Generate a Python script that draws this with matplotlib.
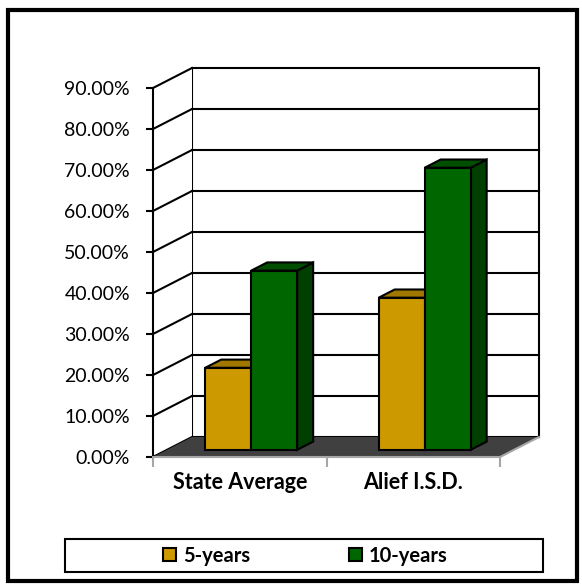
import matplotlib.pyplot as plt
from matplotlib.patches import Polygon, Rectangle, Patch

plt.rcParams['font.family'] = ['Lato', 'DejaVu Sans']

categories = ["State Average", "Alief I.S.D."]
series_names = ["5-years", "10-years"]
five_years = [0.200, 0.371]
ten_years = [0.437, 0.688]
yticks = [0.0, 0.1, 0.2, 0.3, 0.4, 0.5, 0.6, 0.7, 0.8, 0.9]

front_colors = ["#CC9900", "#006600"]
top_colors = ["#A07800", "#004F00"]
side_colors = ["#8A6700", "#003F00"]

W, H = 582, 585
fig = plt.figure(figsize=(W / 100, H / 100), dpi=100)
ax = fig.add_axes([153 / W, (H - 457) / H, 347 / W, 369 / H])
ax.set_xlim(0, 2)
ax.set_ylim(0, 0.9)
ax.patch.set_visible(False)

# depth of the fake 3d box, in pixels
px_x = 347 / 2
px_y = 369 / 0.9
DX, DY = 39, 20


def p(x, y, t):
    # point at depth t (0 = front, 1 = back wall) in data coords
    return (x + t * DX / px_x, y + t * DY / px_y)


def poly(pts, fc, ec="black", lw=1.5, z=1):
    ax.add_patch(Polygon(pts, closed=True, facecolor=fc, edgecolor=ec,
                         linewidth=lw, zorder=z, clip_on=False, joinstyle="miter"))


def line(a, b, c="black", lw=1.5, z=1.2):
    ax.plot([a[0], b[0]], [a[1], b[1]], color=c, lw=lw, zorder=z, clip_on=False,
            solid_capstyle="projecting")


# walls
poly([p(0, 0, 1), p(2, 0, 1), p(2, 0.9, 1), p(0, 0.9, 1)], "white", z=0.5)
poly([p(0, 0, 0), p(0, 0, 1), p(0, 0.9, 1), p(0, 0.9, 0)], "white", ec="none", z=0.5)
for v in yticks[1:-1]:
    line(p(0, v, 1), p(2, v, 1))
for v in yticks:
    line(p(0, v, 0), p(0, v, 1))

# floor
poly([p(0, 0, 0), p(2, 0, 0), p(2, 0, 1), p(0, 0, 1)], "#404040", ec="none", z=1.5)
line(p(2, 0, 0), p(2, 0, 1), c="#a6a6a6", lw=1.5, z=1.6)

# bars
bw = 0.265
t0 = 0.36
t1 = t0 + 16 / DX
for i in range(len(categories)):
    for j, vals in enumerate([five_years, ten_years]):
        x0 = i + 0.5 - bw + j * bw - 0.015
        x1 = x0 + bw
        v = vals[i]
        poly([p(x1, 0, t0), p(x1, 0, t1), p(x1, v, t1), p(x1, v, t0)], side_colors[j], z=3)
        poly([p(x0, v, t0), p(x1, v, t0), p(x1, v, t1), p(x0, v, t1)], top_colors[j], z=3)
        poly([p(x0, 0, t0), p(x1, 0, t0), p(x1, v, t0), p(x0, v, t0)], front_colors[j], z=3)

# axes
for s in ["top", "right"]:
    ax.spines[s].set_visible(False)
ax.spines["left"].set_linewidth(1.5)
ax.spines["bottom"].set_color("#a6a6a6")
ax.spines["bottom"].set_linewidth(1.5)
ax.set_yticks(yticks)
ax.set_yticklabels([f"{v * 100:.2f}%" for v in yticks], fontsize=14)
ax.tick_params(axis="y", direction="out", length=5, width=1.5, pad=11.5)
ax.set_xticks([0, 1, 2])
ax.set_xticklabels([])
ax.set_xticks([0.5, 1.5], minor=True)
ax.set_xticklabels(categories, minor=True, fontsize=15.5, fontweight="bold")
ax.tick_params(axis="x", which="major", direction="out", length=7, width=1.5, color="#a6a6a6")
ax.tick_params(axis="x", which="minor", length=0, pad=11)

# legend
fig.patches.append(Rectangle((65 / W, 1 - 572 / H), 478 / W, 33 / H, transform=fig.transFigure,
                             fill=False, edgecolor="black", linewidth=1.5))
handles = [Patch(facecolor=c, edgecolor="black", linewidth=1.5) for c in front_colors]
fig.legend(handles, series_names, loc="center", bbox_to_anchor=(305 / W, 1 - 555.5 / H),
           ncol=2, frameon=False, handlelength=0.65, handleheight=0.65, handletextpad=0.35,
           columnspacing=4.9, prop={"weight": "bold", "size": 14.5})

# outer border
fig.patches.append(Rectangle((8 / W, 1 - 581 / H), 569 / W, 571 / H, transform=fig.transFigure,
                             fill=False, edgecolor="black", linewidth=3))

fig.savefig("out.png", dpi=100)
